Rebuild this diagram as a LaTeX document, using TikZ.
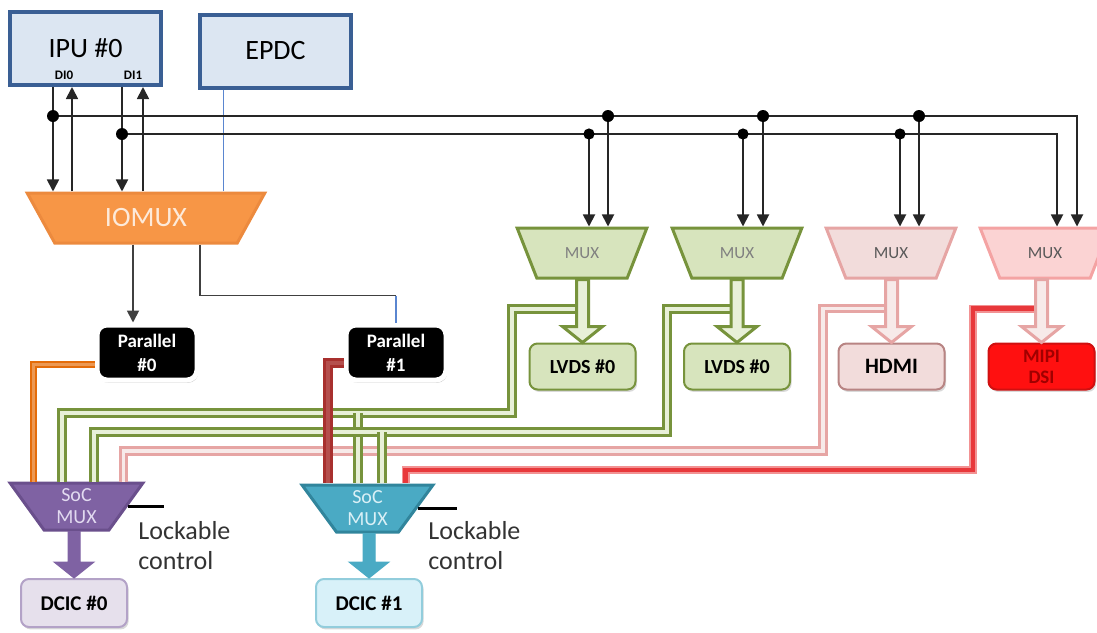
\documentclass[tikz,border=0pt]{standalone}
\usepackage{fontspec}
\setmainfont{Carlito}
\usetikzlibrary{shapes.geometric,arrows.meta,calc,shadows}

\definecolor{ipufill}{HTML}{DCE6F2}
\definecolor{ipuedge}{HTML}{3A5F94}
\definecolor{epdcline}{HTML}{5A86D0}
\definecolor{iomuxfill}{HTML}{F79646}
\definecolor{iomuxedge}{HTML}{EC8A3E}
\definecolor{iomuxtext}{HTML}{FDEADA}
\definecolor{lvdsfill}{HTML}{D7E4BD}
\definecolor{lvdsedge}{HTML}{77933C}
\definecolor{lvdslight}{HTML}{E8F0D8}
\definecolor{hdmifill}{HTML}{F2DCDB}
\definecolor{hdmiedge}{HTML}{E6A5A4}
\definecolor{mipimuxfill}{HTML}{FBD3D3}
\definecolor{mipimuxedge}{HTML}{F4A3A3}
\definecolor{mipifill}{HTML}{FF1010}
\definecolor{mipiedge}{HTML}{D01010}
\definecolor{mipitext}{HTML}{A00000}
\definecolor{redbus}{HTML}{E8383B}
\definecolor{orangebus}{HTML}{E46C0A}
\definecolor{darkredbus}{HTML}{A8302E}
\definecolor{socpurple}{HTML}{7F62A3}
\definecolor{socpurpleedge}{HTML}{6A4F8C}
\definecolor{socpurpletext}{HTML}{E2DAF0}
\definecolor{dcicpurple}{HTML}{E6E0EC}
\definecolor{dcicpurpleedge}{HTML}{B3A2C7}
\definecolor{socteal}{HTML}{4AAAC4}
\definecolor{soctealedge}{HTML}{31859C}
\definecolor{soctealtext}{HTML}{DAF0F6}
\definecolor{dcicteal}{HTML}{D8F1F9}
\definecolor{dcictealedge}{HTML}{92CDDC}

\tikzset{
  >={Triangle[length=6pt,width=6pt]},
  sig/.style={draw=black!85, line width=0.9pt},
  graysig/.style={draw=black!75, line width=0.9pt},
  blockbox/.style={draw=ipuedge, line width=2pt, fill=ipufill, minimum width=75.5pt, minimum height=36.5pt, font=\fontsize{14}{16}\selectfont},
  pinlbl/.style={inner sep=0pt, font=\bfseries\fontsize{6.5}{7}\selectfont},
  muxbase/.style={trapezium, trapezium stretches=true, shape border rotate=180, inner sep=0pt, line width=1.5pt},
  iomuxshape/.style={muxbase, fill=iomuxfill, draw=iomuxedge, minimum width=119pt, minimum height=25pt, trapezium angle=56, text=iomuxtext, font=\fontsize{14}{16}\selectfont},
  gmux/.style={muxbase, fill=lvdsfill, draw=lvdsedge, minimum width=65pt, minimum height=25pt, trapezium angle=56, text=black!50, font=\fontsize{8.5}{9}\selectfont},
  pmux/.style={gmux, fill=hdmifill, draw=hdmiedge, text=black!65},
  rmux/.style={gmux, fill=mipimuxfill, draw=mipimuxedge, text=black!65},
  socmux/.style={muxbase, minimum height=23.5pt, align=center, font=\fontsize{10}{11}\selectfont},
  outbox/.style={rounded corners=4pt, line width=1pt, minimum width=53pt, minimum height=23pt, inner sep=1pt, align=center, font=\bfseries\fontsize{10}{10.5}\selectfont, drop shadow={shadow xshift=0.8pt, shadow yshift=-1.2pt, opacity=0.3}},
  lvdsbox/.style={outbox, fill=lvdsfill, draw=lvdsedge},
  hdmibox/.style={outbox, fill=hdmifill, draw=hdmiedge!80!black, font=\bfseries\fontsize{11}{12}\selectfont},
  mipibox/.style={outbox, fill=mipifill, draw=mipiedge, text=mipitext, font=\bfseries\fontsize{9.5}{10.5}\selectfont},
  dcicbox/.style={outbox, minimum height=24pt, font=\bfseries\fontsize{10.5}{11}\selectfont},
  parbox/.style={rounded corners=5pt, fill=black, draw=white, line width=2.5pt, text=white, minimum width=50pt, minimum height=27.5pt, inner sep=1pt, align=center, font=\bfseries\fontsize{9.5}{12}\selectfont, drop shadow={shadow xshift=0.6pt, shadow yshift=-1.4pt, opacity=0.4}},
  gbus/.style={draw=lvdsedge, double=lvdslight, line width=1.5pt, double distance=2pt},
  pbus/.style={draw=hdmiedge, double=hdmifill!60, line width=1.5pt, double distance=1.8pt},
  rbus/.style={draw=redbus!55, double=redbus, line width=0.9pt, double distance=2.2pt},
  obus/.style={draw=orangebus, double=orangebus!70, line width=1.3pt, double distance=1.2pt},
  dbus/.style={draw=darkredbus, double=darkredbus!85!white, line width=1.5pt, double distance=2pt},
  harrowg/.style={fill=lvdslight, draw=lvdsedge, line width=1.5pt},
  harrowp/.style={fill=hdmifill!60, draw=hdmiedge, line width=1.5pt},
  sarrowp/.style={fill=socpurple, draw=socpurple, line width=0.5pt},
  sarrowt/.style={fill=socteal, draw=socteal, line width=0.5pt},
  ctrl/.style={draw=black, line width=1.5pt},
  locktext/.style={inner sep=0pt, align=left, text=black!80, font=\fontsize{13}{15}\selectfont},
}

% wide arrow from the bottom of #1 down to the top of #2
\newcommand{\fatarrow}[3]{%
  \filldraw[#3] ($(#2.north |- #1.south)+(-6,0)$) -- ($(#2.north)+(-6,-16)$)
    -- ($(#2.north)+(-20,-16)$) -- (#2.north) -- ($(#2.north)+(20,-16)$)
    -- ($(#2.north)+(6,-16)$) -- ($(#2.north |- #1.south)+(6,0)$) -- cycle;}

\begin{document}
\begin{tikzpicture}[x=0.5pt,y=-0.5pt]
\useasboundingbox (0,0) rectangle (1097,632);

% sources
\node[blockbox] (ipu) at (85.5,48.5) {IPU \#0};
\node[blockbox] (epdc) at (275.5,51) {EPDC};
\node[pinlbl] (di0lbl) at (64,75) {DI0};
\node[pinlbl] (di1lbl) at (133,75) {DI1};

\node[iomuxshape] (iomux) at (146,218) {IOMUX};

% display muxes and outputs
\node[gmux] (mux1) at (582,253) {MUX};
\node[gmux] (mux2) at (737,253) {MUX};
\node[pmux] (mux3) at (891,253) {MUX};
\node[rmux] (mux4) at (1045,253) {MUX};

\node[lvdsbox] (lvds0) at (582.5,366.5) {LVDS \#0};
\node[lvdsbox] (lvds1) at (737,366.5) {LVDS \#0};
\node[hdmibox] (hdmi) at (891.5,366.5) {HDMI};
\node[mipibox] (mipi) at (1041.5,366.5) {MIPI\\DSI};

\node[parbox] (par0) at (147,352.5) {Parallel\\\#0};
\node[parbox] (par1) at (396,352.5) {Parallel\\\#1};

% SoC muxes
\node[socmux, fill=socpurple, draw=socpurpleedge, text=socpurpletext, minimum width=66.5pt, trapezium angle=59] (soc0) at (76.5,506.5) {SoC\\MUX};
\node[socmux, fill=socteal, draw=soctealedge, text=soctealtext, minimum width=65.5pt, trapezium angle=57.5] (soc1) at (367.5,508.5) {SoC\\MUX};

\node[dcicbox, fill=dcicpurple, draw=dcicpurpleedge] (dcic0) at (74,603) {DCIC \#0};
\node[dcicbox, fill=dcicteal, draw=dcictealedge] (dcic1) at (369,603) {DCIC \#1};

\node[locktext, anchor=north west] (lock0) at (138,521) {Lockable\\control};
\node[locktext, anchor=north west] (lock1) at (428,521) {Lockable\\control};

% buses to the SoC muxes
\coordinate (g1) at (512,413);
\coordinate (g2) at (667,432);
\coordinate (p1) at (823,451);
\coordinate (r1) at (973,470);

\draw[pbus] ([yshift=17pt]hdmi.north) -| (p1) -| ([xshift=23.5pt]soc0.north);
\draw[rbus] ([yshift=17pt]mipi.north) -| (r1) -| ([xshift=19pt]soc1.north);
\draw[gbus] ([yshift=17pt]lvds0.north) -| (g1) -| ([xshift=-7.5pt]soc0.north);
\draw[gbus] ([xshift=-5pt]soc1.north |- g1) -- ([xshift=-5pt]soc1.north);
\draw[gbus] ([yshift=17pt]lvds1.north) -| (g2) -| ([xshift=8.5pt]soc0.north);
\draw[gbus] ([xshift=7pt]soc1.north |- g2) -- ([xshift=7pt]soc1.north);
\draw[dbus] ([yshift=-5pt]par1.west) -| ([xshift=-20pt]soc1.north);
\draw[obus] ([yshift=-6pt]par0.west) -| ([xshift=-21.5pt]soc0.north);

% wide arrows
\fatarrow{mux1}{lvds0}{harrowg}
\fatarrow{mux2}{lvds1}{harrowg}
\fatarrow{mux3}{hdmi}{harrowp}
\fatarrow{mux4}{mipi}{harrowp}
\fatarrow{soc0}{dcic0}{sarrowp}
\fatarrow{soc1}{dcic1}{sarrowt}

\draw[ctrl] (soc0.east) -- ++(18pt,0) coordinate (c0);
\draw[ctrl] (soc1.east) -- ++(19.5pt,0) coordinate (c1);

% IPU <-> IOMUX
\coordinate (busA) at (53,116);
\coordinate (busB) at (122,134);
\coordinate (up0) at (72,116);
\coordinate (up1) at (143,134);

\draw[sig,->] (ipu.south -| busA) -- (iomux.north -| busA);
\draw[sig,->] (iomux.north -| up0) -- (ipu.south -| up0);
\draw[sig,->] (ipu.south -| busB) -- (iomux.north -| busB);
\draw[sig,->] (iomux.north -| up1) -- (ipu.south -| up1);
\draw[epdcline, line width=0.7pt] ([xshift=-26pt]epdc.south) -- ([xshift=-26pt]epdc.south |- iomux.north);

% display bus
\draw[sig,->] (busA) -| ([xshift=16pt]mux4.north);
\draw[sig,->] (busB) -| ([xshift=6pt]mux4.north);
\fill (busA) circle[radius=3pt];
\fill (busB) circle[radius=3pt];
\foreach \m/\a/\b in {mux1/3.5pt/13pt, mux2/3pt/13pt, mux3/4.5pt/14pt}{
  \draw[sig,->] ([xshift=\a]\m.north |- busB) -- ([xshift=\a]\m.north);
  \draw[sig,->] ([xshift=\b]\m.north |- busA) -- ([xshift=\b]\m.north);
  \fill ([xshift=\a]\m.north |- busB) circle[radius=2.8pt];
  \fill ([xshift=\b]\m.north |- busA) circle[radius=3pt];
}

% IOMUX to the parallel ports
\draw[graysig,->] ([xshift=-7pt]par0.north |- iomux.south) -- ([xshift=-7pt]par0.north);
\draw[graysig] ([xshift=27pt]iomux.south) |- ([yshift=13.5pt]par1.north) coordinate (k1);
\draw[epdcline, line width=0.7pt] (k1) -- (par1.north);

\end{tikzpicture}
\end{document}
